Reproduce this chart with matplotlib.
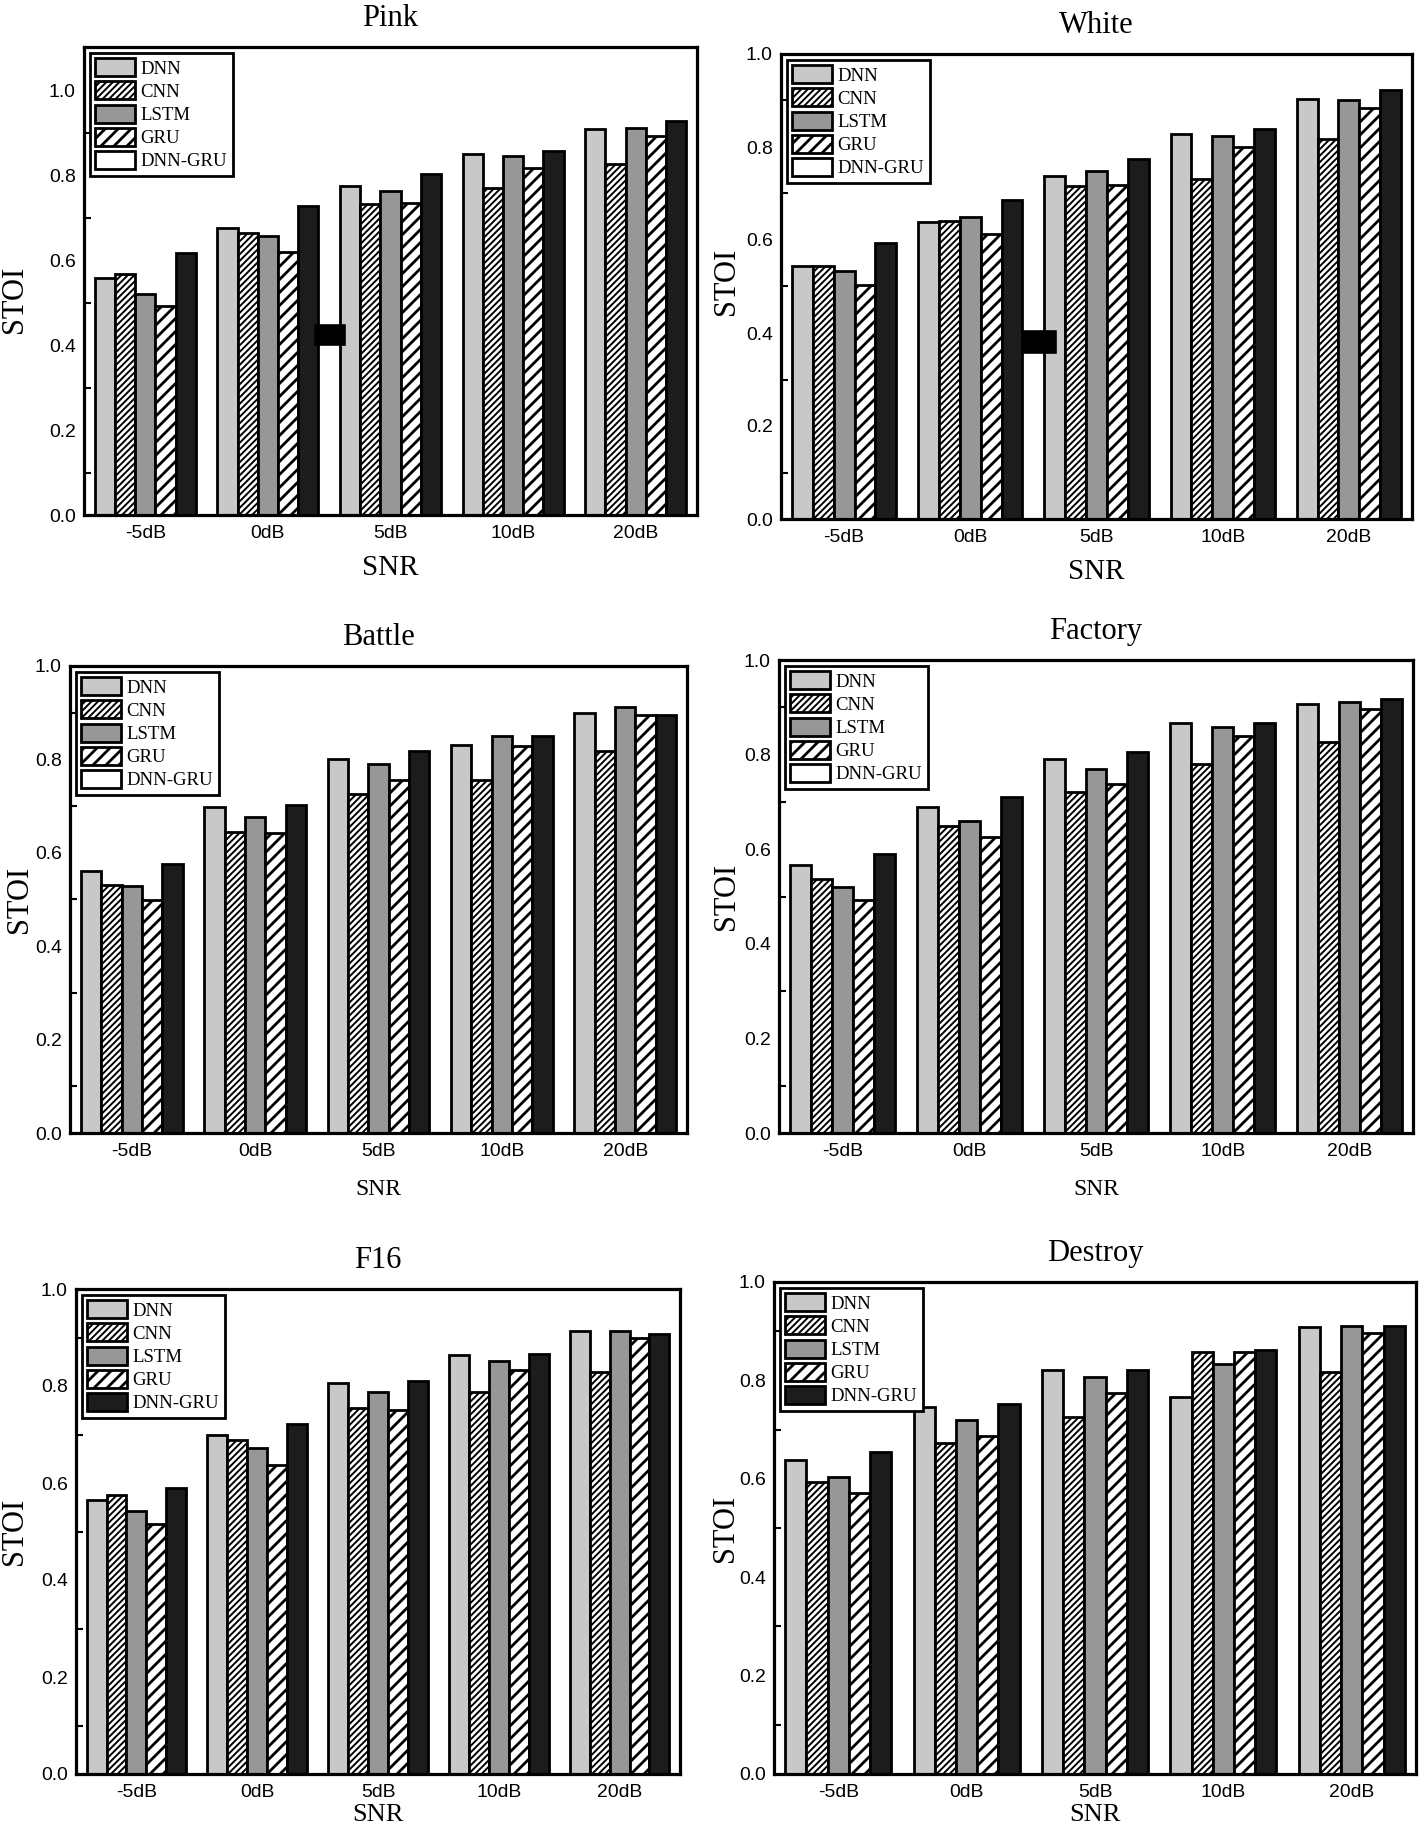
import matplotlib
matplotlib.use("Agg")
import matplotlib.pyplot as plt
import numpy as np
from matplotlib.patches import Patch, Rectangle

# the dpi sets the hatch cell size, picked so the stripe spacing matches the original
DPI = 117
f = 100 / DPI  # sizes below are written for 100 dpi

plt.rcParams['hatch.linewidth'] = 2.0 * f

snr = ['-5dB', '0dB', '5dB', '10dB', '20dB']
models = ['DNN', 'CNN', 'LSTM', 'GRU', 'DNN-GRU']

# STOI per model, one row per model, columns follow snr
pink = [[0.558, 0.677, 0.776, 0.850, 0.909],
        [0.568, 0.664, 0.733, 0.770, 0.828],
        [0.522, 0.658, 0.764, 0.847, 0.912],
        [0.493, 0.619, 0.736, 0.819, 0.894],
        [0.618, 0.728, 0.804, 0.859, 0.929]]
white = [[0.545, 0.638, 0.737, 0.828, 0.904],
         [0.544, 0.641, 0.716, 0.732, 0.818],
         [0.533, 0.649, 0.748, 0.824, 0.901],
         [0.503, 0.612, 0.718, 0.800, 0.884],
         [0.594, 0.687, 0.775, 0.839, 0.923]]
battle = [[0.560, 0.699, 0.800, 0.831, 0.899],
          [0.532, 0.644, 0.725, 0.755, 0.817],
          [0.529, 0.676, 0.791, 0.850, 0.912],
          [0.500, 0.642, 0.756, 0.829, 0.896],
          [0.576, 0.703, 0.817, 0.851, 0.896]]
factory = [[0.567, 0.689, 0.790, 0.866, 0.908],
           [0.536, 0.650, 0.721, 0.780, 0.826],
           [0.521, 0.660, 0.769, 0.858, 0.911],
           [0.493, 0.625, 0.738, 0.839, 0.897],
           [0.589, 0.711, 0.806, 0.867, 0.918]]
f16 = [[0.565, 0.698, 0.807, 0.863, 0.913],
       [0.576, 0.689, 0.754, 0.788, 0.828],
       [0.542, 0.673, 0.787, 0.851, 0.913],
       [0.516, 0.637, 0.750, 0.832, 0.898],
       [0.589, 0.721, 0.810, 0.866, 0.907]]
destroy = [[0.638, 0.745, 0.822, 0.766, 0.908],
           [0.593, 0.672, 0.726, 0.857, 0.818],
           [0.603, 0.720, 0.806, 0.834, 0.910],
           [0.571, 0.687, 0.775, 0.857, 0.896],
           [0.655, 0.753, 0.821, 0.861, 0.911]]

titles = ['Pink', 'White', 'Battle', 'Factory', 'F16', 'Destroy']
datasets = [pink, white, battle, factory, f16, destroy]
ytops = [1.103, 1.0, 1.0, 1.0, 1.0, 1.0]

# stray black block that shows up in the two top panels (x0, x1, y0, y1)
stray = {0: (1.385, 1.626, 0.400, 0.447), 1: (1.41, 1.68, 0.358, 0.404)}

W, H = 1424, 1832
# axes boxes in pixels: left, top, right, bottom
boxes = [(84, 47, 697, 515), (781, 54, 1412, 519),
         (70, 666, 687, 1133), (779, 660, 1413, 1133),
         (76, 1289, 680, 1774), (774, 1282, 1416, 1774)]
# label placement in pixels: STOI right edge left of spine, SNR top below spine
stoi_off = [55, 40, 36, 38, 47, 34]
stoi_y = [0.46, 0.51, 0.5, 0.5, 0.5, 0.5]
snr_off = [40, 40, 46, 46, 30, 30]
snr_size = [21, 21, 17, 17, 19, 19]

faces = ['#c8c8c8', 'white', '#979797', 'white', '#1c1c1c']
hatches = [None, '//////', None, '///', None]
hatch_lw = [1.0, 1.4, 1.0, 2.0, 1.0]  # hatch stroke per series, pt at 100 dpi

serif = 'Liberation Serif'
sans = 'Liberation Sans'


def set_hlw(p, lw):
    try:
        p.set_hatch_linewidth(lw * f)
    except AttributeError:
        pass


fig = plt.figure(figsize=(W / DPI, H / DPI), dpi=DPI)

x = np.arange(len(snr))
bw = 0.165
for k, (title, data) in enumerate(zip(titles, datasets)):
    l, t, r, b = boxes[k]
    ax = fig.add_axes([l / W, 1 - b / H, (r - l) / W, (b - t) / H])
    for i, m in enumerate(models):
        bars = ax.bar(x + (i - 2) * bw, data[i], bw, color=faces[i], hatch=hatches[i],
                      edgecolor='black', linewidth=2.0 * f, zorder=2)
        for p in bars:
            set_hlw(p, hatch_lw[i])
    if k in stray:
        x0, x1, y0, y1 = stray[k]
        ax.add_patch(Rectangle((x0, y0), x1 - x0, y1 - y0, color='black', zorder=3))
    ax.set_xlim(-0.5, 4.5)
    ax.set_ylim(0, ytops[k])
    ax.set_xticks(x)
    ax.set_xticklabels(snr, fontfamily=sans, fontsize=14 * f)
    yt = np.arange(0, 1.01, 0.2)
    ax.set_yticks(yt)
    ax.set_yticklabels(['%.1f' % v for v in yt], fontfamily=sans, fontsize=14 * f)
    ax.set_yticks(np.arange(0.1, 1.0, 0.2), minor=True)
    ax.tick_params(axis='x', length=0, pad=7 * f)
    ax.tick_params(axis='y', which='major', length=0, pad=6 * f)
    ax.tick_params(axis='y', which='minor', direction='in', length=5 * f, width=1.5 * f)
    for s in ax.spines.values():
        s.set_linewidth(2.3 * f)
    ax.set_title(title, fontfamily=serif, fontsize=22 * f, pad=15 * f)
    ax.set_ylabel('STOI', fontfamily=serif, fontsize=22 * f)
    ax.yaxis.set_label_coords(-stoi_off[k] / (r - l), stoi_y[k])
    ax.set_xlabel('SNR', fontfamily=serif, fontsize=snr_size[k] * f)
    ax.xaxis.set_label_coords(0.5, -snr_off[k] / (b - t))

    last = 'white' if k < 4 else '#1c1c1c'
    handles = []
    for i, m in enumerate(models):
        fc = last if i == 4 else faces[i]
        h = Patch(facecolor=fc, hatch=hatches[i], edgecolor='black', linewidth=2.0 * f, label=m)
        set_hlw(h, hatch_lw[i])
        handles.append(h)
    leg = ax.legend(handles=handles, loc='upper left', prop={'family': serif, 'size': 13.5 * f},
                    handlelength=2.1, handleheight=1.1, labelspacing=0.2, borderpad=0.3,
                    handletextpad=0.3, borderaxespad=0.3, fancybox=False, framealpha=1)
    leg.get_frame().set_edgecolor('black')
    leg.get_frame().set_linewidth(2.0 * f)
    for lp, lw in zip(leg.get_patches(), hatch_lw):
        set_hlw(lp, lw)

fig.savefig('out.png', dpi=DPI)
